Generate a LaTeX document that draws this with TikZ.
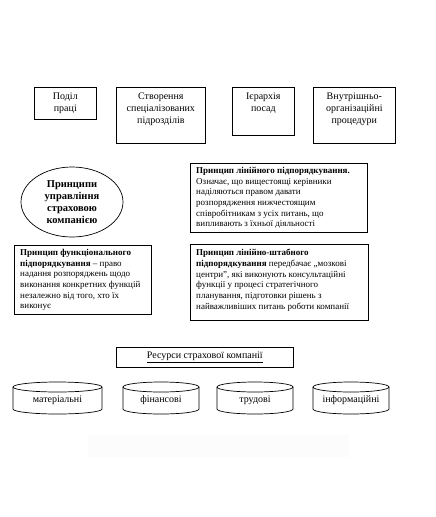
\documentclass[tikz,border=0pt]{standalone}
\usepackage{fontspec}
\setmainfont{Liberation Serif}
\usetikzlibrary{shapes.geometric,calc}
\tikzset{
  frame/.style={draw, line width=0.7pt, inner sep=0pt, anchor=north west},
  lbl/.style={font=\fontsize{10}{12}\selectfont, align=center, inner sep=0pt},
  smalltext/.style={font=\fontsize{9}{10.7}\selectfont, align=left, inner sep=0pt, anchor=north west},
  cylline/.style={line width=0.7pt},
}
\newcommand\mycyl[5]{% name, x1, x2, text, center
  \draw[cylline] (#5,387) ellipse [x radius={(#3-#2)/2*1pt}, y radius=5pt];
  \draw[cylline] (#2,387) -- (#2,409) arc[start angle=180, end angle=360, x radius={(#3-#2)/2*1pt}, y radius=5pt] -- (#3,387);
  \node[lbl] (#1) at (#5,400) {#4};
}
\begin{document}
\begin{tikzpicture}[x=1pt,y=-1pt]
\useasboundingbox (0,0) rectangle (436,517);

% top row
\node[frame, minimum width=62pt, minimum height=32pt] (b1) at (34,87) {};
\node[lbl, anchor=north] (t1) at ([yshift=-5.5pt]b1.north) {Поділ\\праці};
\node[frame, minimum width=89pt, minimum height=56pt] (b2) at (116,87) {};
\node[lbl, anchor=north] (t2) at ([yshift=-5.5pt]b2.north) {Створення\\спеціалізованих\\підрозділів};
\node[frame, minimum width=62pt, minimum height=48pt] (b3) at (232,87) {};
\node[lbl, anchor=north] (t3) at ([yshift=-5.5pt]b3.north) {Ієрархія\\посад};
\node[frame, minimum width=82pt, minimum height=56pt] (b4) at (313,87) {};
\node[lbl, anchor=north] (t4) at ([yshift=-5.5pt]b4.north) {Внутрішньо-\\організаційні\\процедури};

% ellipse
\node[draw, ellipse, line width=0.7pt, minimum width=102pt, minimum height=70pt, inner sep=0pt] (el) at (72,202) {};
\node[font=\bfseries\fontsize{10.5}{12.2}\selectfont, align=center, inner sep=0pt] (elt) at (el.center) {Принципи\\управління\\страховою\\компанією};

% linear principle
\node[frame, minimum width=177pt, minimum height=69pt] (b5) at (190,163) {};
\node[smalltext] (t5) at ([xshift=6pt,yshift=-4pt]b5.north west) {\textbf{Принцип лінійного підпорядкування.}\\Означає, що вищестоящі керівники\\наділяються правом давати\\розпорядження нижчестоящим\\співробітникам з усіх питань, що\\випливають з їхньої діяльності};

% functional principle
\node[frame, minimum width=137pt, minimum height=69pt] (b6) at (14,245) {};
\node[smalltext] (t6) at ([xshift=6pt,yshift=-4pt]b6.north west) {\textbf{Принцип функціонального}\\\textbf{підпорядкування} – право\\надання розпоряджень щодо\\виконання конкретних функцій\\незалежно від того, хто їх\\виконує};

% line-staff principle
\node[frame, minimum width=178pt, minimum height=76pt] (b7) at (190,244) {};
\node[smalltext] (t7) at ([xshift=6pt,yshift=-5pt]b7.north west) {\textbf{Принцип лінійно-штабного}\\\textbf{підпорядкування} передбачає „мозкові\\центри”, які виконують консультаційні\\функції у процесі стратегічного\\планування, підготовки рішень з\\найважливіших питань роботи компанії};

% resources
\node[frame, minimum width=177pt, minimum height=20pt] (b8) at (116,347) {};
\node[lbl] (t8) at (b8.center) {\underline{Ресурси страхової компанії}};

\mycyl{c1}{13}{102}{матеріальні}{57.5}
\mycyl{c2}{123}{199}{фінансові}{161}
\mycyl{c3}{217}{293}{трудові}{255}
\mycyl{c4}{313}{389}{інформаційні}{351}

% faint band
\fill[black!1.3] (88,434) rectangle (349,457);
\end{tikzpicture}
\end{document}
